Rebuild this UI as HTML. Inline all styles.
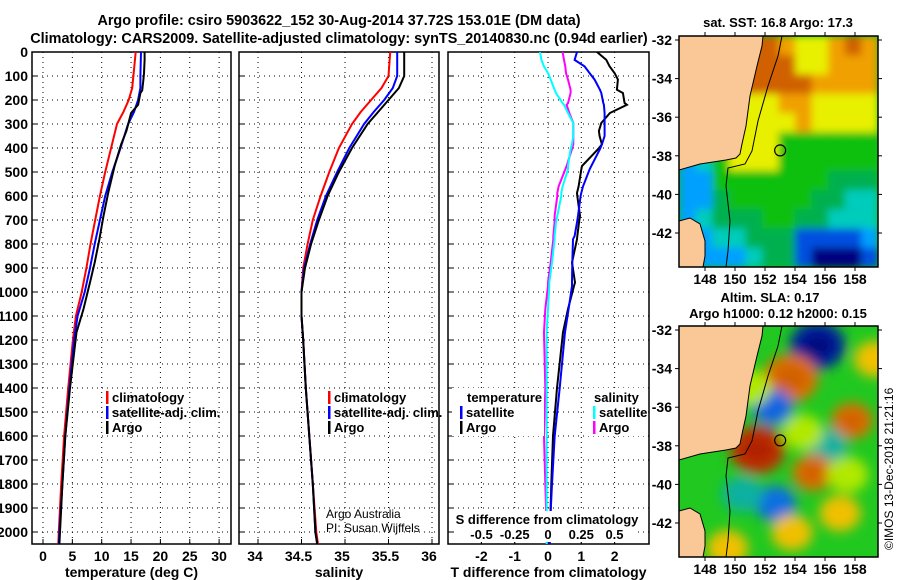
<!DOCTYPE html>
<html><head><meta charset="utf-8"><style>
html,body{margin:0;padding:0;background:#fff}
svg{display:block;font-family:"Liberation Sans",sans-serif}
.b{font-weight:bold;font-size:14px}
.s{font-weight:bold;font-size:13px}
</style></head><body>
<svg id="c" width="900" height="580" viewBox="0 0 900 580">
<defs>
<clipPath id="cl1"><rect x="32" y="52" width="199" height="492"/></clipPath>
<clipPath id="cl2"><rect x="239" y="52" width="200" height="492"/></clipPath>
<clipPath id="cl3"><rect x="448" y="52" width="201" height="492"/></clipPath>
<clipPath id="cm1"><rect x="679" y="36" width="199" height="231"/></clipPath>
<clipPath id="cm2"><rect x="679" y="326" width="199" height="231"/></clipPath>
<filter id="bl" x="-50%" y="-50%" width="200%" height="200%"><feGaussianBlur stdDeviation="6"/></filter>
<filter id="bs" x="-10%" y="-10%" width="120%" height="120%"><feGaussianBlur stdDeviation="4"/></filter>
</defs>
<text x="339" y="25" text-anchor="middle" style="font-weight:bold;font-size:14.4px">Argo profile: csiro 5903622_152 30-Aug-2014 37.72S 153.01E (DM data)</text>
<text x="339" y="43" text-anchor="middle" style="font-weight:bold;font-size:14.4px">Climatology: CARS2009. Satellite-adjusted climatology: synTS_20140830.nc (0.94d earlier)</text>
<g id="g"></g>
</svg>
<script>
// ---- data ----
const depthArgoT=[0,33,88,115,160,171,220,254,329,385,475,587,683,780,877,960,1071,1168,1400,1600,1800,2000,2050];
const tArgo=[17.3,17.3,17.2,17.1,16.9,16.6,16.2,15.0,14.2,13.3,12.2,11.1,10.3,9.6,8.8,8.0,6.9,5.7,4.6,3.8,3.3,2.9,2.8];
const depthClim=[0,100,150,200,250,300,400,500,600,700,800,900,1000,1100,1200,1400,1600,1800,2000,2050];
const tClim=[15.8,15.4,15.2,14.6,13.7,12.6,11.6,10.6,9.7,8.9,8.1,7.4,6.6,5.6,5.1,4.3,3.6,3.1,2.7,2.6];
const tSat=[16.7,16.6,16.6,16.2,15.5,14.5,13.2,11.8,10.6,9.7,8.8,8.0,7.1,5.9,5.3,4.5,3.8,3.3,2.8,2.7];
const sArgo=[35.68,35.68,35.62,35.5,35.38,35.26,35.08,34.93,34.8,34.7,34.61,34.54,34.5,34.5,34.52,34.55,34.59,34.63,34.66,34.68];
const sClim=[35.52,35.5,35.42,35.3,35.18,35.08,34.93,34.82,34.72,34.63,34.57,34.52,34.5,34.5,34.52,34.55,34.59,34.63,34.67,34.69];
const sSat=[35.6,35.6,35.55,35.45,35.33,35.22,35.05,34.91,34.78,34.68,34.6,34.53,34.5,34.5,34.52,34.55,34.59,34.63,34.66,34.68];
const depthDiff=[0,33,60,88,115,157,171,213,220,254,296,329,350,385,405,475,489,560,587,600,683,710,767,780,877,960,975,1071,1168,1400,1600,1800,2000,2050];
const dTArgo=[1.47,1.75,1.85,2.0,2.1,2.07,2.25,2.3,2.37,1.86,1.6,1.53,1.55,1.62,1.5,1.02,1.0,0.92,0.87,0.88,0.96,0.93,0.88,0.87,0.72,0.81,0.78,0.6,0.45,0.27,0.15,0.1,0.06,0.05];
const dTSat=[0.87,0.8,1.1,1.25,1.4,1.56,1.6,1.66,1.68,1.7,1.7,1.7,1.7,1.62,1.56,1.3,1.25,1.05,1.0,0.98,0.9,0.87,0.8,0.75,0.73,0.72,0.72,0.62,0.51,0.35,0.2,0.12,0.05,0.05];
const dSArgo=[0.11,0.12,0.13,0.135,0.15,0.17,0.17,0.15,0.14,0.16,0.19,0.19,0.19,0.19,0.18,0.14,0.13,0.08,0.07,0.07,0.05,0.05,0.04,0.04,0.02,0.0,0.0,-0.02,-0.03,-0.02,-0.03,-0.02,-0.01,-0.01];
const dSSat=[-0.06,-0.05,-0.03,0.0,0.02,0.05,0.06,0.11,0.12,0.15,0.19,0.19,0.19,0.18,0.17,0.15,0.15,0.11,0.1,0.1,0.07,0.06,0.05,0.05,0.03,0.01,0.01,0.0,-0.01,-0.01,-0.01,-0.01,-0.01,-0.01];
const depthTicks=[0,100,200,300,400,500,600,700,800,900,1000,1100,1200,1300,1400,1500,1600,1700,1800,1900,2000];
const tTicks=[0,5,10,15,20,25,30];
const sTicks=[34,34.5,35,35.5,36];
const dTTicks=[-2,-1,0,1,2];
const dSTicks=[-0.5,-0.25,0,0.25,0.5];
const sstGrid=[
[7,7,7,7,8,8,7,6,6,7,8,7],
[7,7,7,7,8,8,8,6,6,7,7,7],
[7,7,7,6,8,8,8,8,7,7,7,7],
[6,6,6,6,6,6,7,7,6,6,6,6],
[5,5,5,6,6,6,6,7,6,6,6,6],
[5,5,5,6,6,6,5,5,5,5,5,5],
[2,3,5,6,6,6,5,5,5,5,5,5],
[2,2,5,5,5,5,5,5,5,4,4,4],
[2,2,4,5,5,5,5,5,4,4,3,3],
[2,3,4,4,4,5,5,4,4,3,3,3],
[2,2,3,3,4,4,4,1,1,1,1,2],
[2,2,2,2,3,4,4,1,0,0,0,1]];
const slaLon=[155.5,153.7,152.5,157.8,151.5,156.1,155.2,152.7,153.8,159.3,150.5,154.5,157,149.5,157.5,151];
const slaLat=[-32.8,-34.5,-36.0,-36.7,-38.2,-38.0,-39.4,-41.0,-42.5,-33.5,-40.5,-37.3,-41.5,-43.3,-39.5,-35];
const slaVal=[-3,2.5,-2,2,3,-1,2,-1.5,1.5,1.5,-0.5,0.5,1,1.5,0.5,0.5];
const lonTicks=[148,150,152,154,156,158];
const latTicks=[-32,-34,-36,-38,-40,-42];

// ---- helpers ----
const NS='http://www.w3.org/2000/svg';
const G=document.getElementById('g');
function mk(tag,at,parent){const e=document.createElementNS(NS,tag);for(const k in at)e.setAttribute(k,at[k]);(parent||G).appendChild(e);return e;}
const yD=d=>52+d*0.24;
const xT=v=>43+v*5.87;
const xS=v=>258+(v-34)*87;
const xDT=v=>548+v*33.3;
const xDS=v=>548+v*133;

function panel(x0,w,name,ticks,xf,labels,xtitle,leftLabels){
  const g=mk('g',{});
  
  
  depthTicks.forEach(d=>{const y=yD(d);mk('line',{x1:x0,x2:x0+w,y1:y,y2:y,stroke:'#000','stroke-width':1,'stroke-dasharray':'1,4'},g);
    mk('line',{x1:x0,x2:x0+5,y1:y,y2:y,stroke:'#000'},g);
    if(leftLabels){const t=mk('text',{x:x0-4,y:y+5,'text-anchor':'end',class:'b'},g);t.textContent=d;}});
  ticks.forEach((v,i)=>{const x=xf(v);mk('line',{x1:x,x2:x,y1:52,y2:544,stroke:'#000','stroke-dasharray':'1,4'},g);
    mk('line',{x1:x,x2:x,y1:544,y2:539,stroke:'#000'},g);
    if(labels){const t=mk('text',{x:x,y:561,'text-anchor':'middle',class:'b'},g);t.textContent=labels[i];}});
  mk('rect',{x:x0,y:52,width:w,height:492,fill:'none',stroke:'#000','stroke-width':1.5},g);
  const t=mk('text',{x:x0+w/2,y:577,'text-anchor':'middle',class:'b'},g);t.textContent=xtitle;
  return g;
}
function line(xs,ds,xf,col,clip,name){
  const p=xs.map((v,i)=>(i?'L':'M')+xf(v).toFixed(1)+','+yD(ds[i]).toFixed(1)).join('');
  const e=mk('path',{d:p,fill:'none',stroke:col,'stroke-width':2,'clip-path':'url(#'+clip+')'});
  
  
}
function txt(x,y,s,name,extra){const t=mk('text',Object.assign({x:x,y:y,class:'s'},extra||{}));t.textContent=s;
  
  return t;}
function legend(x,y,col,s,name){mk('rect',{x:x,y:y-11,width:2.5,height:13,fill:col});txt(x+6,y,s,name);}

panel(32,199,'temperature-panel',tTicks,xT,tTicks,'temperature (deg C)',true);
line(tClim,depthClim,xT,'#f00','cl1','temp-climatology-line');
line(tSat,depthClim,xT,'#00f','cl1','temp-satellite-line');
line(tArgo,depthArgoT,xT,'#000','cl1','temp-argo-line');
legend(106,402,'#f00','climatology','legend-climatology');
legend(106,417,'#00f','satellite-adj. clim.','legend-satellite');
legend(106,432,'#000','Argo','legend-argo');

panel(239,200,'salinity-panel',sTicks,xS,[],'salinity',false);
sTicks.forEach(v=>{const t=mk('text',{x:xS(v)-3,y:561,'text-anchor':'middle',class:'b'});t.textContent=v;});
line(sClim,depthClim,xS,'#f00','cl2','sal-climatology-line');
line(sSat,depthClim,xS,'#00f','cl2','sal-satellite-line');
line(sArgo,depthClim,xS,'#000','cl2','sal-argo-line');
legend(328,402,'#f00','climatology','legend-climatology-2');
legend(328,417,'#00f','satellite-adj. clim.','legend-satellite-2');
legend(328,432,'#000','Argo','legend-argo-2');
txt(326,518,'Argo Australia','credit-1',{class:'',style:'font-size:12px'});
txt(326,532,'PI: Susan Wijffels','credit-2',{class:'',style:'font-size:12px'});

panel(448,201,'difference-panel',dTTicks,xDT,dTTicks,'T difference from climatology',false);
line(dTArgo,depthDiff,xDT,'#000','cl3','tdiff-argo-line');
line(dTSat,depthDiff,xDT,'#00f','cl3','tdiff-satellite-line');
line(dSArgo,depthDiff,xDS,'#f0f','cl3','sdiff-argo-line');
line(dSSat,depthDiff,xDS,'#0ff','cl3','sdiff-satellite-line');
mk('rect',{x:452,y:388,width:92,height:48,fill:'#fff'});
mk('rect',{x:588,y:388,width:58,height:48,fill:'#fff'});
txt(467,402,'temperature','legend-temperature-head');
legend(460,417,'#00f','satellite','legend-t-satellite');
legend(460,432,'#000','Argo','legend-t-argo');
txt(594,402,'salinity','legend-salinity-head');
legend(593,417,'#0ff','satellite','legend-s-satellite');
legend(593,432,'#f0f','Argo','legend-s-argo');
mk('rect',{x:456,y:511,width:182,height:31,fill:'#fff'});
txt(547,524,'S difference from climatology','s-axis-title',{'text-anchor':'middle'});
dSTicks.forEach(v=>{const t=mk('text',{x:xDS(v),y:539,'text-anchor':'middle',class:'s'});t.textContent=v;});

// ---- maps ----
const xL=l=>705+(l-148)*15;
function yLat(top){return a=>top+(-32-a)*19.3;}
const landPts=[[679,0],[763,0],[762,10],[757,30],[750,60],[746,90],[742,108],[740,118],[736,122],[726,124],[700,128],[679,134]];
const tasPts=[[679,185],[690,182],[700,188],[705,205],[705,220],[703,231],[679,231]];
const bathPts=[[782,0],[778,20],[768,50],[758,85],[752,115],[745,128],[728,132],[726,150],[730,185],[728,215],[726,231]];
function map(top,clip,name,titleLines,fillFn){
  const g=mk('g',{});
  
  
  const inner=mk('g',{'clip-path':'url(#'+clip+')'},g);
  fillFn(inner);
  const pt=a=>a.map(p=>p[0]+','+(p[1]+top)).join(' ');
  mk('polygon',{points:pt(landPts),fill:'#fac896',stroke:'#000','stroke-width':1},inner);
  mk('polygon',{points:pt(tasPts),fill:'#fac896',stroke:'#000','stroke-width':1},inner);
  mk('polyline',{points:pt(bathPts),fill:'none',stroke:'#000','stroke-width':1},inner);
  mk('rect',{x:679,y:top,width:199,height:231,fill:'none',stroke:'#000','stroke-width':1.5},g);
  const yl=yLat(top+4);
  latTicks.forEach(a=>{const y=yl(a);mk('line',{x1:679,x2:675,y1:y,y2:y,stroke:'#000'},g);mk('line',{x1:878,x2:882,y1:y,y2:y,stroke:'#000'},g);
    const t=mk('text',{x:672,y:y+5,'text-anchor':'end',class:'b'},g);t.textContent=a;});
  lonTicks.forEach(l=>{const x=xL(l);mk('line',{x1:x,x2:x,y1:top+231,y2:top+235,stroke:'#000'},g);mk('line',{x1:x,x2:x,y1:top,y2:top-4,stroke:'#000'},g);
    const t=mk('text',{x:x,y:top+248,'text-anchor':'middle',class:'b'},g);t.textContent=l;});
  mk('circle',{cx:xL(153.01),cy:yl(-37.72),r:5.5,fill:'none',stroke:'#000','stroke-width':1.2},g);
  titleLines.forEach((s,i)=>{const t=mk('text',{x:s[1],y:s[2],'text-anchor':'middle',class:'s'},g);t.textContent=s[0];});
}
const sstCols=['#00007f','#0050e0','#00a0ff','#00ccbb','#00b050','#10c010','#e8f000','#f0a000','#d06000'];
map(36,'cm1','sst-map',[['sat. SST: 16.8 Argo: 17.3',778,27]],g=>{
  const cw=199/12,ch=231/12;
  mk('rect',{x:679,y:36,width:199,height:231,fill:'#10c010'},g);
  const gg=mk('g',{filter:'url(#bs)'},g);
  sstGrid.forEach((row,r)=>row.forEach((v,c)=>{mk('rect',{x:679+c*cw,y:36+r*ch,width:cw+0.6,height:ch+0.6,fill:sstCols[v]},gg);}));
});
function slaCol(v){if(v<=-2.5)return '#0020a0';if(v<=-1.5)return '#1070e0';if(v<0)return '#10b0a0';if(v<1)return '#b0e800';if(v<1.8)return '#f0c000';if(v<2.7)return '#e07000';return '#c03000';}
map(326,'cm2','sla-map',[['Altim. SLA: 0.17',770,302],['Argo h1000: 0.12 h2000: 0.15',778,318]],g=>{
  mk('rect',{x:679,y:326,width:199,height:231,fill:'#20c820'},g);
  const yl=yLat(330);
  const bg=mk('g',{filter:'url(#bl)'},g);
  slaLon.forEach((l,i)=>{const v=slaVal[i];const r=Math.abs(v)>=2.5?24:18;
    mk('ellipse',{cx:xL(l),cy:yl(slaLat[i]),rx:r*1.15,ry:r,fill:slaCol(v)},bg);
    if(Math.abs(v)>=2)mk('ellipse',{cx:xL(l),cy:yl(slaLat[i]),rx:r*0.7,ry:r*0.55,fill:v>0?(v>=2.7?'#b02000':'#d06000'):(v<=-2.5?'#001080':'#1060e0')},bg);});
});
const cr=mk('text',{x:0,y:0,transform:'translate(893,550) rotate(-90)',style:'font-size:12px'});
cr.textContent='©IMOS 13-Dec-2018 21:21:16';


</script>
</body></html>
